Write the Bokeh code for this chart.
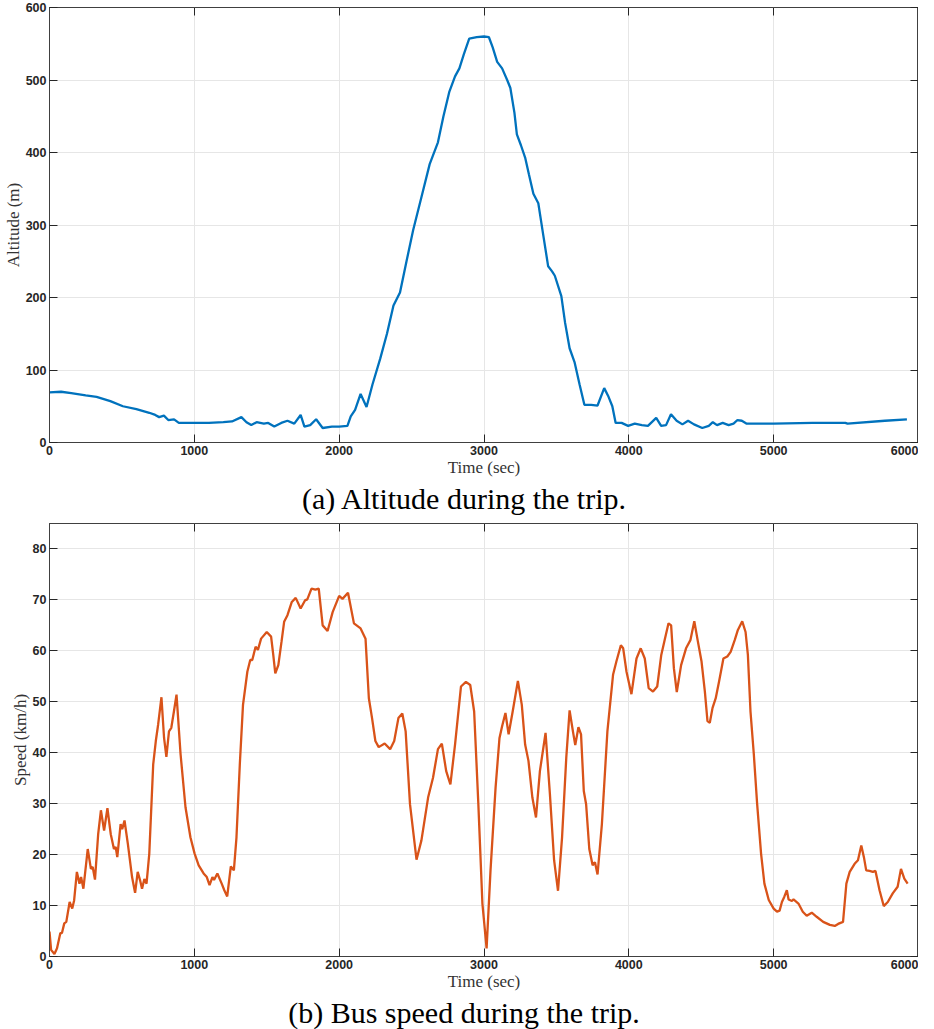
from bokeh.plotting import figure
from bokeh.models import Range1d, LinearAxis, FixedTicker, Div
from bokeh.layouts import column
from bokeh.embed import file_html
from bokeh.resources import INLINE

# ---- data: altitude (m) vs time (sec)
alt_t = [0, 80, 150, 250, 325, 420, 507, 600, 689, 730, 757, 790, 820, 860, 893, 1000,
         1100, 1200, 1260, 1325, 1360, 1393, 1430, 1480, 1510, 1552, 1600, 1643, 1690,
         1734, 1760, 1800, 1841, 1886, 1950, 2000, 2057, 2080, 2110, 2148, 2189, 2230,
         2284, 2330, 2375, 2420, 2465, 2511, 2570, 2625, 2682, 2720, 2761, 2800, 2830,
         2860, 2898, 2950, 3000, 3034, 3060, 3091, 3125, 3160, 3182, 3210, 3227, 3255,
         3284, 3310, 3341, 3375, 3410, 3443, 3470, 3489, 3534, 3560, 3591, 3625, 3660,
         3693, 3740, 3784, 3830, 3860, 3886, 3909, 3950, 3995, 4041, 4090, 4132, 4189,
         4223, 4257, 4291, 4330, 4370, 4409, 4450, 4507, 4552, 4580, 4609, 4648, 4689,
         4723, 4750, 4780, 4814, 5000, 5268, 5495, 5510, 5768, 5920]
alt_m = [69, 70, 68, 65, 63, 57, 50, 46, 41, 38, 35, 37, 31, 32, 27, 27,
         27, 28, 29, 35, 28, 24, 28, 26, 27, 22, 27, 30, 26,
         38, 22, 24, 32, 20, 22, 22, 23, 36, 45, 67, 49, 80,
         116, 150, 189, 207, 250, 293, 340, 384, 414, 450, 484, 505, 516,
         535, 557, 559, 560, 559, 545, 525, 516, 500, 489, 455, 425, 410,
         393, 370, 343, 330, 285, 243, 236, 230, 202, 165, 130, 111, 80,
         52, 52, 51, 75, 63, 50, 27, 27, 23, 26, 24, 23, 34,
         23, 24, 39, 30, 25, 30, 25, 20, 23, 28, 24, 27, 24,
         26, 31, 30, 26, 26, 27, 27, 26, 30, 32]

# ---- data: bus speed (km/h) vs time (sec)
spd_t = [0, 11, 34, 52, 75, 86, 102, 116, 139, 157, 170, 189, 207, 218, 234, 264, 286,
         298, 314, 336, 355, 377, 400, 423, 445, 457, 468, 491, 502, 518, 541, 570, 591,
         609, 625, 639, 655, 670, 689, 716, 734, 750, 773, 791, 807, 825, 841, 859, 877,
         905, 939, 973, 1002, 1030, 1064, 1086, 1105, 1125, 1136, 1159, 1189, 1207, 1227,
         1252, 1273, 1291, 1314, 1336, 1366, 1386, 1400, 1423, 1439, 1461, 1500, 1530,
         1545, 1559, 1580, 1602, 1620, 1643, 1673, 1700, 1734, 1764, 1780, 1809, 1836,
         1859, 1886, 1920, 1955, 2000, 2023, 2061, 2102, 2148, 2182, 2205, 2227, 2250,
         2273, 2314, 2352, 2380, 2409, 2436, 2459, 2489, 2534, 2568, 2614, 2648, 2682,
         2709, 2739, 2768, 2800, 2841, 2875, 2905, 2932, 2961, 2989, 3018, 3045, 3080,
         3107, 3125, 3148, 3170, 3198, 3234, 3261, 3284, 3307, 3334, 3359, 3386, 3425,
         3455, 3484, 3511, 3539, 3568, 3591, 3614, 3630, 3652, 3670, 3689, 3705, 3727,
         3750, 3766, 3784, 3814, 3852, 3891, 3914, 3945, 3961, 3984, 4018, 4053, 4082,
         4110, 4137, 4167, 4196, 4224, 4247, 4274, 4292, 4311, 4331, 4361, 4395, 4425,
         4452, 4475, 4502, 4525, 4543, 4559, 4578, 4600, 4623, 4653, 4680, 4703, 4731,
         4753, 4783, 4806, 4822, 4840, 4863, 4886, 4913, 4936, 4966, 5000, 5023, 5041,
         5057, 5073, 5091, 5103, 5126, 5137, 5171, 5201, 5228, 5263, 5297, 5342, 5388,
         5422, 5445, 5479, 5502, 5525, 5559, 5582, 5605, 5623, 5639, 5662, 5685, 5703,
         5731, 5760, 5788, 5822, 5856, 5879, 5902, 5925]
spd_v = [4.9, 1.3, 0.5, 1.6, 4.6, 4.6, 6.5, 6.8, 10.7, 9.4, 11.0, 16.6, 14.3, 15.6, 13.3,
         21.1, 17.2, 17.6, 15.1, 24.0, 28.7, 24.7, 29.1, 24.0, 21.1, 21.5, 19.5, 26.0,
         25.0, 26.7, 22.1, 15.6, 12.5, 16.6, 15.0, 13.3, 15.2, 14.3, 20.2, 37.7, 42.3,
         45.5, 50.9, 42.9, 39.2, 44.2, 44.9, 48.1, 51.4, 39.7, 29.3, 23.4, 20.2, 17.9,
         16.3, 15.6, 14.0, 15.6, 15.0, 16.3, 14.3, 13.0, 11.8, 17.7, 16.9, 23.4, 37.7,
         49.4, 55.9, 58.2, 58.2, 60.8, 60.2, 62.4, 63.7, 62.8, 59.2, 55.6, 57.2, 61.8,
         65.7, 67.0, 69.6, 70.4, 68.3, 69.9, 70.1, 72.2, 72.0, 72.2, 65.0, 63.9, 67.6,
         70.8, 70.2, 71.4, 65.4, 64.4, 62.4, 50.7, 46.8, 42.3, 41.1, 41.8, 40.7, 42.3,
         46.8, 47.7, 44.2, 29.9, 19.0, 22.8, 31.2, 35.1, 40.7, 41.8, 36.4, 33.8, 41.6,
         53.0, 53.9, 53.3, 48.1, 29.9, 10.4, 1.6, 16.9, 33.2, 42.9, 45.2, 47.8, 43.6,
         48.1, 54.1, 49.4, 41.6, 38.4, 31.2, 27.3, 36.4, 43.9, 31.9, 18.9, 12.9, 23.4,
         39.0, 48.3, 44.2, 41.5, 45.0, 43.6, 32.5, 29.9, 21.1, 17.9, 18.5, 16.1, 26.0,
         44.2, 55.3, 57.9, 61.1, 60.5, 55.9, 51.5, 58.5, 60.5, 58.5, 52.7, 52.0, 53.0,
         59.2, 62.1, 65.4, 65.0, 56.6, 51.9, 57.2, 60.5, 62.1, 65.8, 62.1, 57.9, 52.0,
         46.2, 45.9, 48.8, 50.7, 54.0, 58.5, 58.9, 59.8, 62.1, 64.1, 65.8, 63.7, 59.2,
         48.1, 39.7, 29.9, 20.2, 14.3, 11.1, 9.4, 8.8, 9.0, 10.7, 11.7, 13.0, 11.2, 10.9,
         11.2, 10.4, 8.8, 8.0, 8.6, 7.8, 6.8, 6.2, 6.0, 6.4, 6.8, 14.3, 16.6, 18.2, 18.9,
         21.8, 19.5, 16.9, 16.8, 16.6, 16.8, 13.0, 9.9, 10.7, 12.4, 13.7, 17.2, 15.3, 14.3]

x_ticks = [0, 1000, 2000, 3000, 4000, 5000, 6000]
alt_ticks = [0, 100, 200, 300, 400, 500, 600]
spd_ticks = [0, 10, 20, 30, 40, 50, 60, 70, 80]

BOX = "#404040"
TXT = "#262626"
GRID = "#E6E6E6"


def make_fig(height, yr, yticks, ylabel, top_border):
    p = figure(width=918, height=height, output_backend="svg", toolbar_location=None,
               x_range=Range1d(0, 6000), y_range=Range1d(*yr),
               min_border_left=40, min_border_right=0, min_border_top=top_border,
               min_border_bottom=4)
    p.outline_line_color = BOX
    p.outline_line_width = 1
    p.background_fill_color = "white"
    p.border_fill_color = "white"
    p.add_layout(LinearAxis(), "above")
    p.add_layout(LinearAxis(), "right")
    for ax in p.xaxis:
        ax.ticker = FixedTicker(ticks=x_ticks)
    for ax in p.yaxis:
        ax.ticker = FixedTicker(ticks=yticks)
    for ax in list(p.xaxis) + list(p.yaxis):
        ax.axis_line_color = BOX
        ax.major_tick_in = 8
        ax.major_tick_out = 0
        ax.major_tick_line_color = TXT
        ax.minor_tick_line_color = None
        ax.major_label_text_font = "Liberation Sans"
        ax.major_label_text_font_style = "bold"
        ax.major_label_text_font_size = "12.5px"
        ax.major_label_text_color = TXT
        ax.major_label_standoff = 3
        ax.axis_label_text_font = "Liberation Serif"
        ax.axis_label_text_font_style = "normal"
        ax.axis_label_text_font_size = "17px"
        ax.axis_label_text_color = "#333333"
        ax.axis_label_standoff = 0
    for ax in (p.above[0], p.right[0]):
        ax.major_label_text_font_size = "1px"
        ax.major_label_text_color = None
        ax.major_label_standoff = 0
        ax.axis_line_color = None
    p.below[0].axis_label = "Time (sec)"
    p.left[0].axis_label = ylabel
    p.xgrid.ticker = FixedTicker(ticks=x_ticks)
    p.ygrid.ticker = FixedTicker(ticks=yticks)
    p.grid.grid_line_color = GRID
    p.grid.grid_line_width = 1
    return p


p1 = make_fig(479, (0, 600), alt_ticks, "Altitude (m)", 7)
p1.line(alt_t, alt_m, line_color="#0072BD", line_width=2.3)

p2 = make_fig(474, (0, 85), spd_ticks, "Speed (km/h)", 4)
p2.line(spd_t, spd_v, line_color="#D95319", line_width=2.3)

cap_style = ("text-align:center;width:918px;font-family:'Liberation Serif',serif;"
             "font-size:30px;color:#000;line-height:30px;")
c1 = Div(text=f'<div style="{cap_style}">(a) Altitude during the trip.</div>',
         width=918, height=30)
c2 = Div(text=f'<div style="{cap_style}">(b) Bus speed during the trip.</div>',
         width=918, height=30)

layout = column(p1, c1, p2, c2, spacing=0)
open("out.html", "w").write(file_html(layout, INLINE))
